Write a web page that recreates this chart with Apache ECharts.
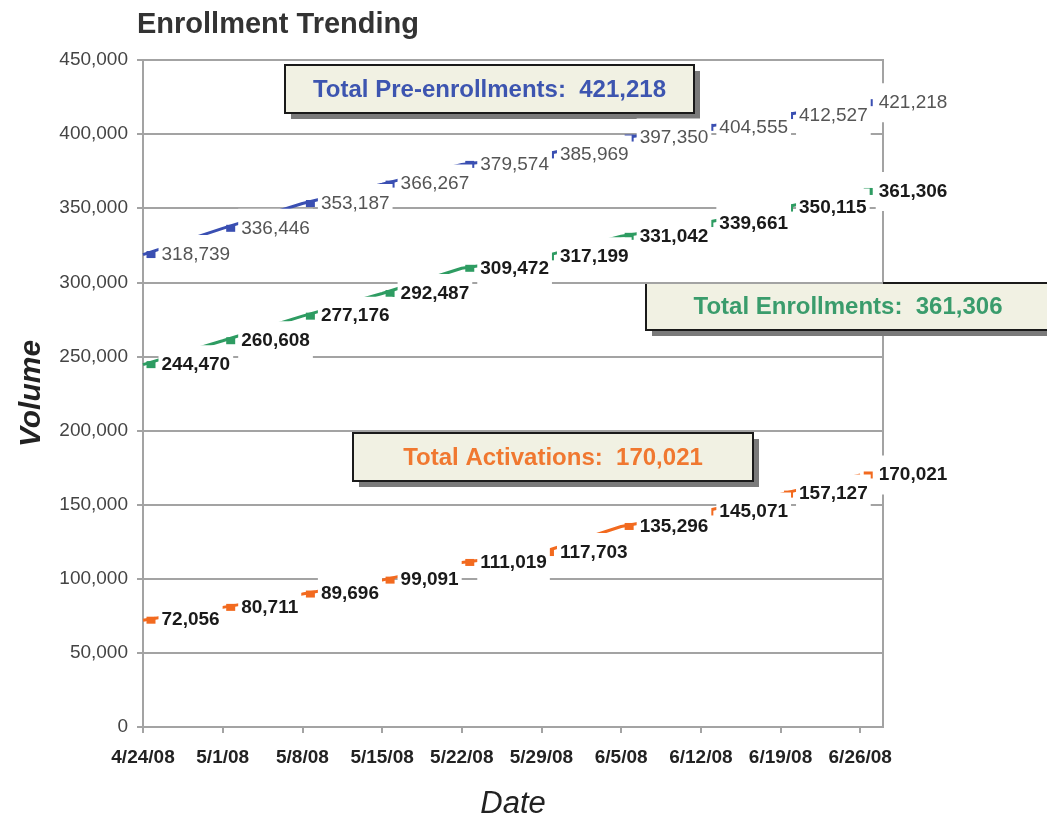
<!DOCTYPE html>
<html>
<head>
<meta charset="utf-8">
<title>Enrollment Trending</title>
<script src="https://cdn.jsdelivr.net/npm/echarts@6/dist/echarts.min.js"></script>
<style>
  html, body { margin: 0; padding: 0; background: #fff; }
  #chart { width: 1047px; height: 825px; }
</style>
</head>
<body>
<div id="chart"></div>
<script>
// weekly snapshots
const dates = ['4/24/08', '5/1/08', '5/8/08', '5/15/08', '5/22/08', '5/29/08', '6/5/08', '6/12/08', '6/19/08', '6/26/08']
const preEnrollments = [318739, 336446, 353187, 366267, 379574, 385969, 397350, 404555, 412527, 421218]
const enrollments = [244470, 260608, 277176, 292487, 309472, 317199, 331042, 339661, 350115, 361306]
const activations = [72056, 80711, 89696, 99091, 111019, 117703, 135296, 145071, 157127, 170021]
const yTicks = [0, 50000, 100000, 150000, 200000, 250000, 300000, 350000, 400000, 450000]

const DAY = 86400000
const toUtc = (s) => {
  const [m, d, y] = s.split('/').map(Number)
  return Date.UTC(2000 + y, m - 1, d)
}
const base = toUtc(dates[0])
const dayOf = (s) => Math.round((toUtc(s) - base) / DAY)
const dayLabel = (v) => {
  const dt = new Date(base + v * DAY)
  return (dt.getUTCMonth() + 1) + '/' + dt.getUTCDate() + '/08'
}
const fmt = (v) => v.toLocaleString('en-US')
const tickDays = dates.map(dayOf)

const sans = '"Liberation Sans", Arial, sans-serif'
const gridGray = '#a3a3a3'

function makeSeries(name, values, color, labelColor, bold) {
  return {
    name: name,
    type: 'line',
    data: dates.map((d, i) => [dayOf(d), values[i]]),
    symbol: 'rect',
    symbolSize: [9, 7],
    symbolOffset: [8, 0],
    lineStyle: { color: color, width: 3 },
    itemStyle: { color: color },
    label: {
      show: true,
      position: 'right',
      distance: 3,
      formatter: (p) => fmt(p.value[1]),
      fontFamily: sans,
      fontSize: 19,
      fontWeight: bold ? 'bold' : 'normal',
      color: labelColor,
      backgroundColor: '#fff',
      padding: [10, 3, 10, 3],
    },
    emphasis: { disabled: true },
    animation: false,
  }
}

function noteBox(left, top, w, h, text, color) {
  return {
    type: 'group',
    left: left,
    top: top,
    z: 100,
    children: [
      { type: 'rect', shape: { x: 6, y: 6, width: w, height: h }, style: { fill: '#7a7a7a' } },
      { type: 'rect', shape: { x: 0, y: 0, width: w, height: h }, style: { fill: '#f1f1e3', stroke: '#1a1a1a', lineWidth: 2 } },
      {
        type: 'text',
        x: w / 2,
        y: h / 2 + 1,
        style: {
          text: text,
          fill: color,
          font: 'bold 24px "Liberation Sans", Arial, sans-serif',
          align: 'center',
          verticalAlign: 'middle',
        },
      },
    ],
  }
}

const chart = echarts.init(document.getElementById('chart'))
chart.setOption({
  backgroundColor: '#fff',
  animation: false,
  title: {
    text: 'Enrollment Trending',
    left: 132,
    top: 5,
    textStyle: { fontFamily: sans, fontSize: 29, fontWeight: 'bold', color: '#333' },
  },
  grid: {
    left: 143,
    right: 164,
    top: 60,
    bottom: 92,
    show: true,
    borderColor: gridGray,
    borderWidth: 2,
    backgroundColor: 'transparent',
  },
  xAxis: {
    type: 'value',
    min: 0,
    max: 65,
    interval: 7,
    name: 'Date',
    nameLocation: 'middle',
    nameGap: 62,
    nameTextStyle: { fontFamily: sans, fontSize: 31, fontStyle: 'italic', color: '#222' },
    axisLine: { show: true, lineStyle: { color: gridGray, width: 2 } },
    axisTick: { show: true, length: 6, customValues: tickDays, lineStyle: { color: gridGray, width: 2 } },
    axisLabel: {
      customValues: tickDays,
      formatter: (v) => dayLabel(v),
      margin: 21,
      fontFamily: sans,
      fontSize: 19,
      fontWeight: 'bold',
      color: '#222',
    },
    splitLine: { show: false },
  },
  yAxis: {
    type: 'value',
    min: yTicks[0],
    max: yTicks[yTicks.length - 1],
    interval: yTicks[1] - yTicks[0],
    name: 'Volume',
    nameLocation: 'middle',
    nameRotate: 90,
    nameGap: 96,
    nameTextStyle: { fontFamily: sans, fontSize: 30, fontStyle: 'italic', fontWeight: 'bold', color: '#222' },
    axisLine: { show: true, lineStyle: { color: gridGray, width: 2 } },
    axisTick: { show: true, length: 6, lineStyle: { color: gridGray, width: 2 } },
    axisLabel: {
      formatter: (v) => fmt(v),
      margin: 15,
      fontFamily: sans,
      fontSize: 19,
      color: '#444',
    },
    splitLine: { show: true, lineStyle: { color: gridGray, width: 2 } },
  },
  graphic: [
    noteBox(284, 64, 409, 48, 'Total Pre-enrollments:  ' + fmt(preEnrollments[preEnrollments.length - 1]), '#3d55b0'),
    noteBox(645, 282, 404, 47, 'Total Enrollments:  ' + fmt(enrollments[enrollments.length - 1]), '#3a9c6c'),
    noteBox(352, 432, 400, 48, 'Total Activations:  ' + fmt(activations[activations.length - 1]), '#f07830'),
  ],
  series: [
    makeSeries('Pre-enrollments', preEnrollments, '#3a4fb2', '#555', false),
    makeSeries('Enrollments', enrollments, '#2e9c62', '#1a1a1a', true),
    makeSeries('Activations', activations, '#f26a1f', '#1a1a1a', true),
  ],
})
</script>
</body>
</html>
